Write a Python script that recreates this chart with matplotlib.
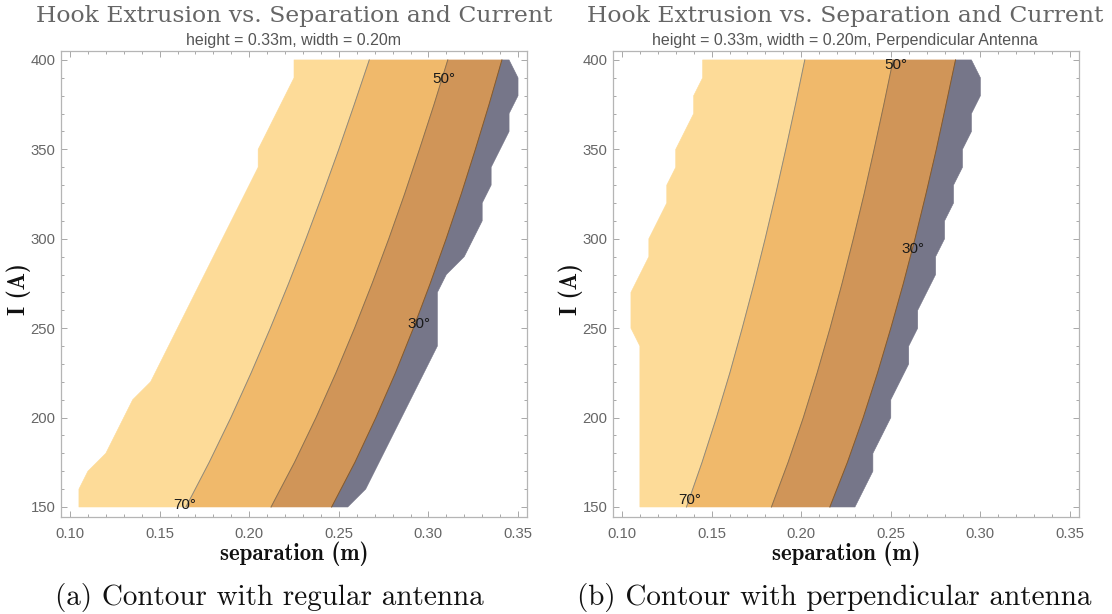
import matplotlib
matplotlib.use("Agg")
import matplotlib.pyplot as plt
import numpy as np
from matplotlib.ticker import MultipleLocator

# ---------------- data ----------------
current_levels = [150, 175, 200, 225, 250, 275, 300, 325, 350, 375, 400]

# contour positions (separation, m) for each current level
reg_70 = [0.1647, 0.1777, 0.1898, 0.2011, 0.2118, 0.2220, 0.2317, 0.2410, 0.2500, 0.2586, 0.2670]
reg_50 = [0.2122, 0.2253, 0.2373, 0.2484, 0.2588, 0.2686, 0.2779, 0.2867, 0.2950, 0.3031, 0.3108]
reg_30 = [0.2460, 0.2590, 0.2707, 0.2816, 0.2916, 0.3010, 0.3099, 0.3183, 0.3262, 0.3338, 0.3410]

perp_70 = [0.1360, 0.1447, 0.1527, 0.1602, 0.1671, 0.1737, 0.1799, 0.1858, 0.1914, 0.1968, 0.2020]
perp_50 = [0.1834, 0.1927, 0.2012, 0.2089, 0.2161, 0.2228, 0.2291, 0.2351, 0.2407, 0.2461, 0.2513]
perp_30 = [0.2160, 0.2258, 0.2346, 0.2426, 0.2500, 0.2570, 0.2635, 0.2696, 0.2754, 0.2808, 0.2861]

# outer edges of the computed region
reg_left_I = [150, 160, 170, 180, 210, 220, 340, 350, 390, 400]
reg_left_s = [0.105, 0.105, 0.110, 0.120, 0.135, 0.145, 0.205, 0.205, 0.225, 0.225]
reg_right_I = [150, 160, 240, 270, 280, 290, 300, 310, 320, 330, 340, 360, 370, 380, 390, 400]
reg_right_s = [0.255, 0.265, 0.305, 0.305, 0.310, 0.320, 0.325, 0.330, 0.330, 0.335, 0.335,
               0.345, 0.345, 0.350, 0.350, 0.345]

perp_left_I = [150, 240, 250, 270, 290, 300, 320, 330, 340, 350, 370, 380, 390, 400]
perp_left_s = [0.110, 0.110, 0.105, 0.105, 0.115, 0.115, 0.125, 0.125, 0.130, 0.130,
               0.140, 0.140, 0.145, 0.145]
perp_right_I = [150, 170, 180, 200, 210, 230, 240, 250, 260, 270, 280, 290, 300, 310, 320,
                330, 340, 350, 360, 370, 380, 390, 400]
perp_right_s = [0.230, 0.240, 0.240, 0.250, 0.250, 0.260, 0.260, 0.265, 0.265, 0.270, 0.275,
                0.275, 0.280, 0.280, 0.285, 0.285, 0.290, 0.290, 0.295, 0.295, 0.300, 0.300, 0.295]

# contour labels: (text, separation, current)
reg_labels = [("70°", 0.1642, 151), ("50°", 0.3087, 389.5), ("30°", 0.2949, 252.6)]
perp_labels = [("70°", 0.1377, 154), ("50°", 0.2526, 397), ("30°", 0.2625, 294)]

titles = "Hook Extrusion vs. Separation and Current"
subtitles = ["height = 0.33m, width = 0.20m",
             "height = 0.33m, width = 0.20m, Perpendicular Antenna"]
captions = ["(a) Contour with regular antenna", "(b) Contour with perpendicular antenna"]

band_colors = ["#FDDB98", "#F0B96B", "#D09558", "#767689"]
line_colors = ["#8f8a7c", "#8c7150", "#8a5a25"]

# ---------------- figure ----------------
W, H = 1112, 614
fig = plt.figure(figsize=(W / 100, H / 100), dpi=100)
fig.patch.set_facecolor("white")


def draw_panel(ax, c70, c50, c30, lI, ls, rI, rs, labels):
    I = np.array(current_levels, dtype=float)
    c70, c50, c30 = map(np.asarray, (c70, c50, c30))
    bands = [
        (np.concatenate([ls, c70[::-1]]), np.concatenate([lI, I[::-1]])),
        (np.concatenate([c70, c50[::-1]]), np.concatenate([I, I[::-1]])),
        (np.concatenate([c50, c30[::-1]]), np.concatenate([I, I[::-1]])),
        (np.concatenate([c30, np.asarray(rs)[::-1]]), np.concatenate([I, np.asarray(rI)[::-1]])),
    ]
    for (xs, ys), col in zip(bands, band_colors):
        ax.fill(xs, ys, facecolor=col, edgecolor=col, lw=0.4, zorder=1)
    for c, col in zip((c70, c50, c30), line_colors):
        ax.plot(c, I, color=col, lw=0.7, zorder=2)
    for txt, s, cur in labels:
        ax.text(s, cur, txt, ha="center", va="center", fontsize=11,
                family="Liberation Sans", color="#1a1a1a", zorder=3)

    ax.set_xlim(0.095, 0.355)
    ax.set_ylim(144.4, 405.0)
    ax.xaxis.set_major_locator(MultipleLocator(0.05))
    ax.xaxis.set_minor_locator(MultipleLocator(0.01))
    ax.yaxis.set_major_locator(MultipleLocator(50))
    ax.yaxis.set_minor_locator(MultipleLocator(10))
    ax.xaxis.set_major_formatter(matplotlib.ticker.FormatStrFormatter("%.2f"))
    ax.tick_params(which="both", direction="in", top=True, right=True,
                   color="#9a9a9a", width=0.6, labelcolor="#666666", labelsize=10.7)
    ax.tick_params(which="major", length=4.5)
    ax.tick_params(axis="x", which="major", pad=7)
    ax.tick_params(axis="y", which="major", pad=4)
    ax.tick_params(which="minor", length=2.5)
    for lab in ax.get_xticklabels() + ax.get_yticklabels():
        lab.set_family("Liberation Sans")
    for sp in ax.spines.values():
        sp.set_color("#b5b5b5")
        sp.set_linewidth(0.9)
    ax.set_xlabel("separation (m)", family="cmb10", fontsize=16.5, color="#111111", va="center")
    ax.set_ylabel("I (A)", family="cmb10", fontsize=16.5, color="#111111", va="center")
    ax.xaxis.set_label_coords(0.5, (517 - 554) / 466)
    ax.yaxis.set_label_coords((19 - 61) / 466, 0.49)


axL = fig.add_axes([61 / W, 1 - 517 / H, 466 / W, 466 / H])
axR = fig.add_axes([613 / W, 1 - 517 / H, 466 / W, 466 / H])
draw_panel(axL, reg_70, reg_50, reg_30, reg_left_I, reg_left_s, reg_right_I, reg_right_s, reg_labels)
draw_panel(axR, perp_70, perp_50, perp_30, perp_left_I, perp_left_s, perp_right_I, perp_right_s, perp_labels)

for cx, sub in zip((294, 845), subtitles):
    fig.text(cx / W, 1 - 16 / H, titles, ha="center", va="center", family="DejaVu Serif",
             fontsize=16.9, color="#666666")
    fig.text(cx / W, 1 - 40 / H, sub, ha="center", va="center", family="Liberation Sans",
             fontsize=11.5, color="#555555")

for cx, cap in zip((269, 834), captions):
    fig.text(cx / W, 1 - 597 / H, cap, ha="center", va="center", family="cmr10",
             fontsize=21, color="#111111")

fig.savefig("out.png", dpi=100)
